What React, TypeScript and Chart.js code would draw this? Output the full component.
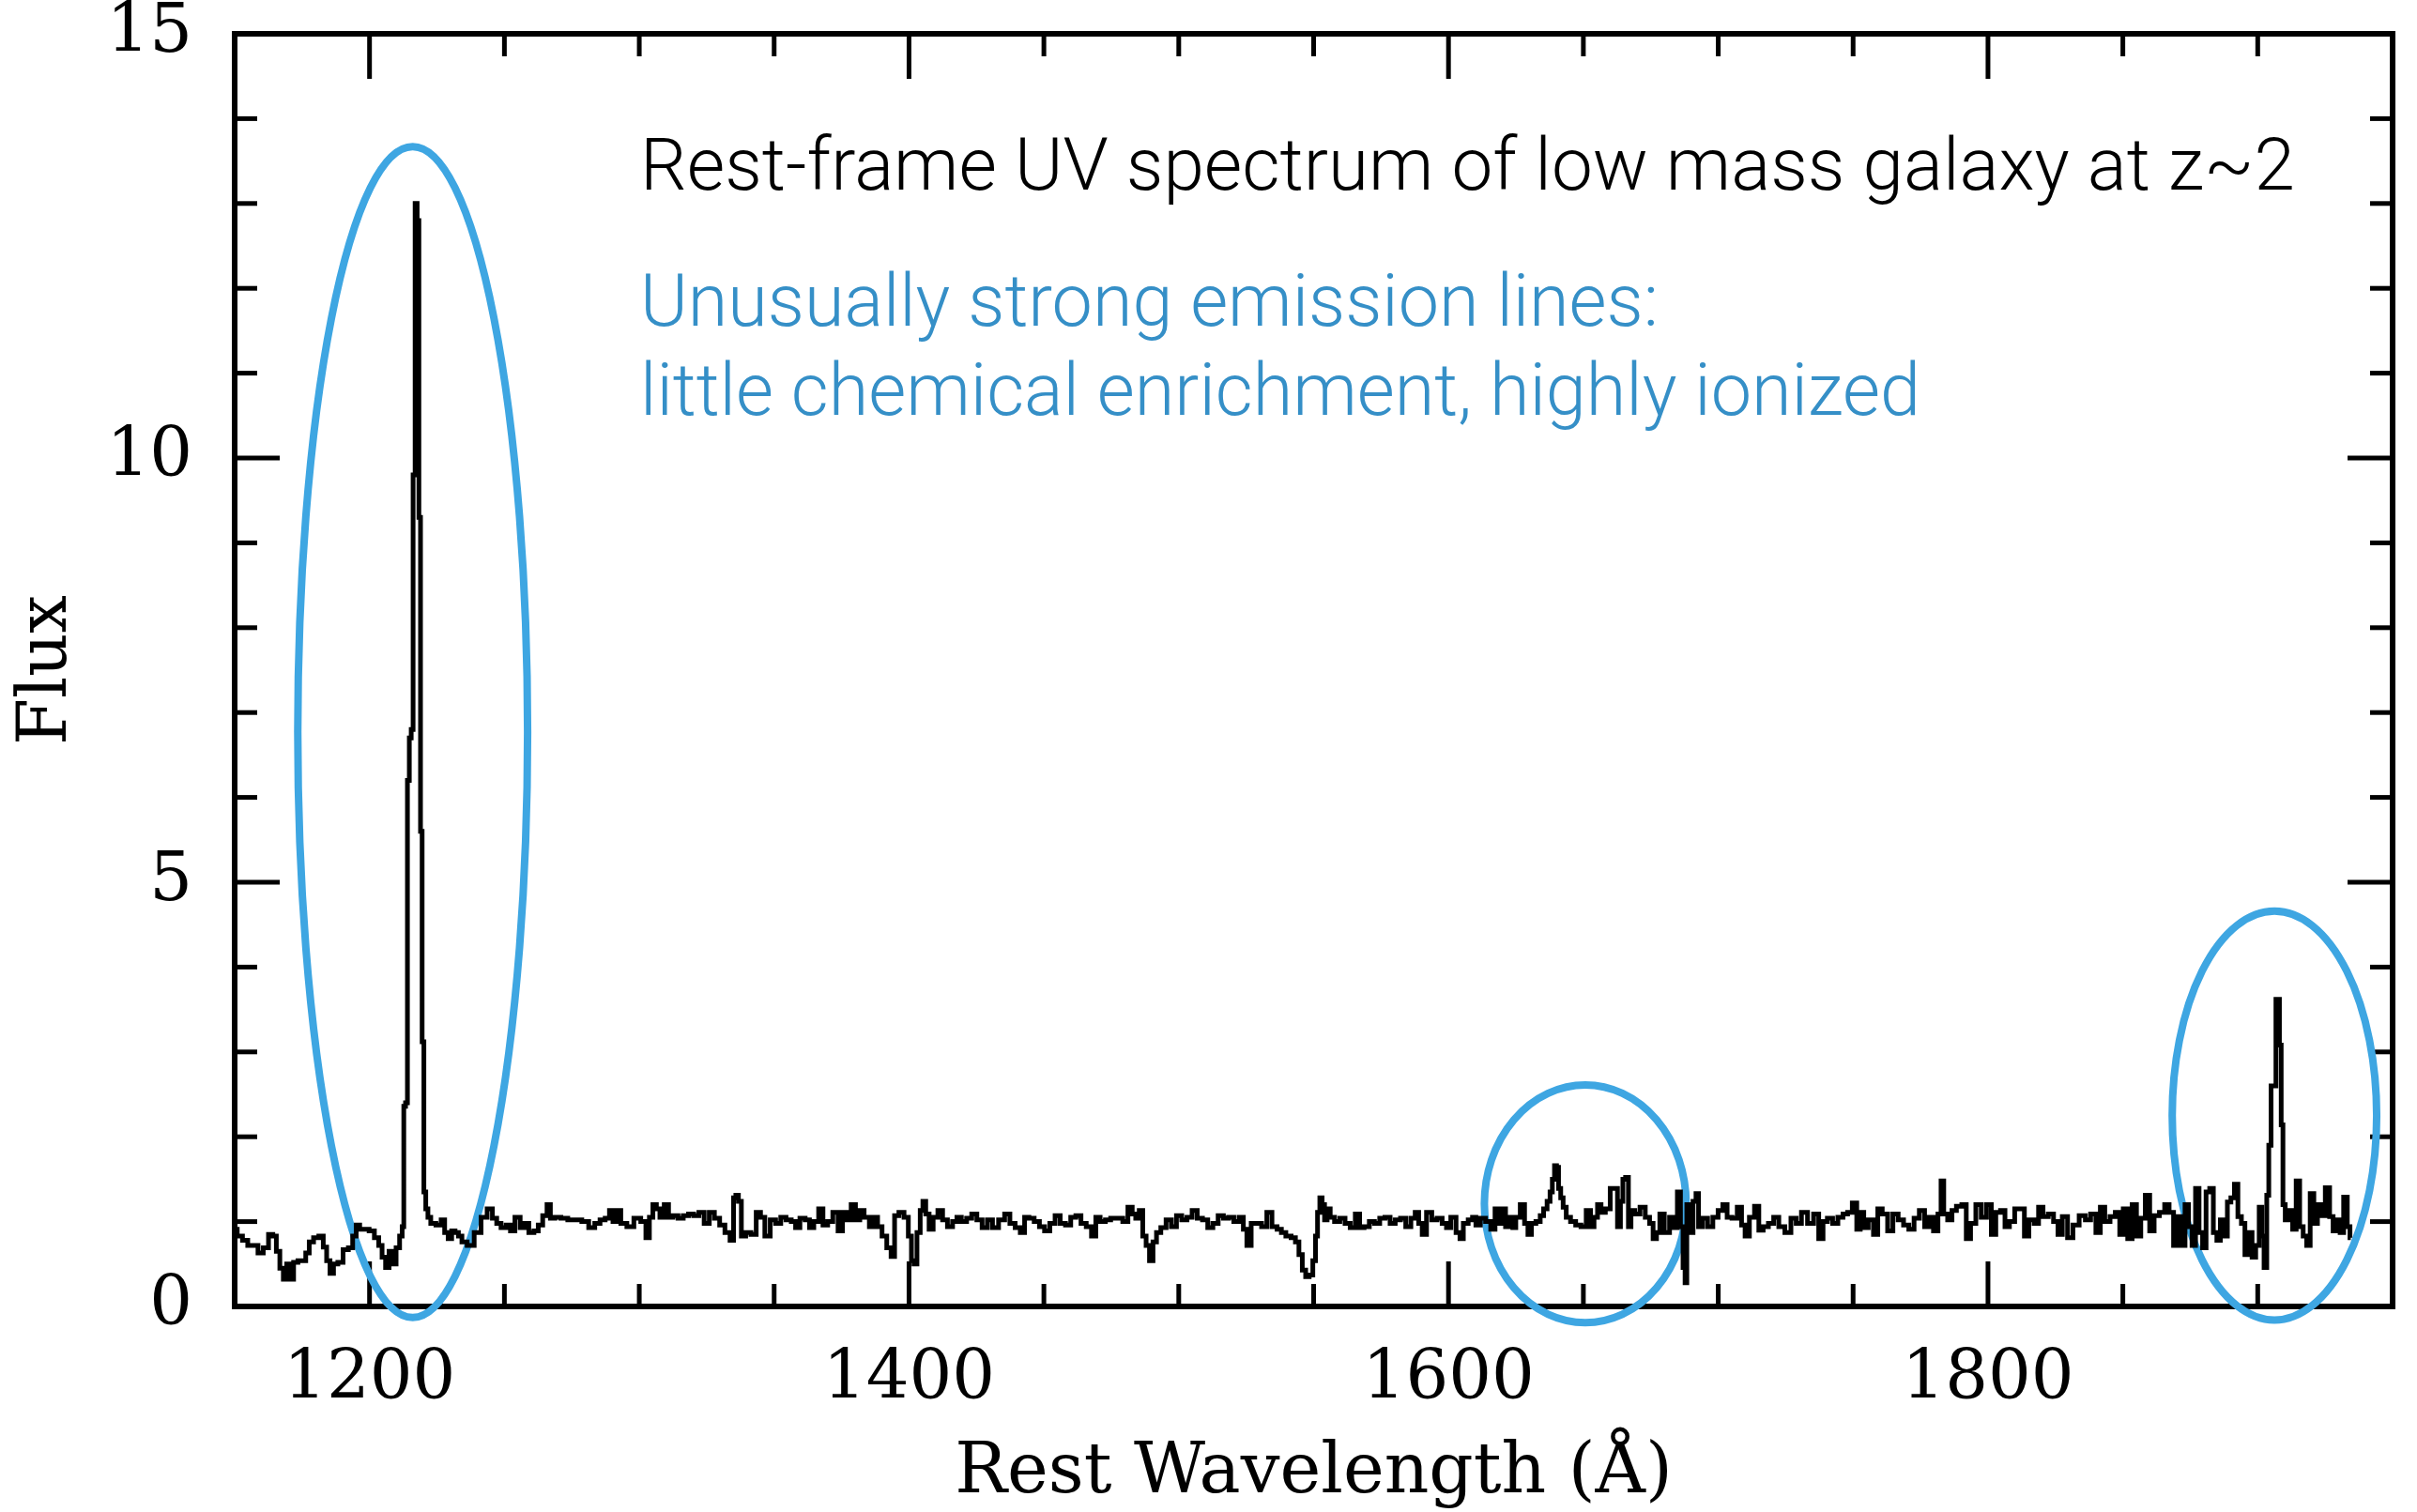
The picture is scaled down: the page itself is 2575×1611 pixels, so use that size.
import React, { useEffect, useRef } from 'react';
import { Chart, registerables } from 'chart.js';

Chart.register(...registerables);

// ---------- axis ranges and tick labels ----------
const X_RANGE = [1150, 1950];
const Y_RANGE = [0, 15];
const X_LABEL_TICKS = [1200, 1400, 1600, 1800];
const Y_LABEL_TICKS = [0, 5, 10, 15];
const X_TITLE = 'Rest Wavelength (Å)';
const Y_TITLE = 'Flux';

// ---------- spectrum: [rest wavelength (Å), flux] ----------
const blueSide: [number, number][] = [
  [1150.0, 0.91], [1151.9, 0.83], [1153.9, 0.78], [1155.8, 0.72], [1157.7, 0.72], [1159.6, 0.63],
  [1161.6, 0.69], [1163.5, 0.85], [1164.8, 0.83], [1166.1, 0.65], [1167.4, 0.45], [1168.7, 0.32],
  [1169.9, 0.50], [1171.2, 0.32], [1172.5, 0.52], [1174.4, 0.54], [1175.7, 0.54], [1177.0, 0.63],
  [1178.3, 0.76], [1180.2, 0.81], [1182.2, 0.83], [1183.5, 0.70], [1184.7, 0.54], [1186.0, 0.39],
  [1187.3, 0.50], [1189.2, 0.52], [1191.2, 0.67], [1193.1, 0.69], [1194.4, 0.83], [1195.7, 0.96],
  [1197.0, 0.91], [1198.9, 0.91], [1200.8, 0.89], [1202.8, 0.81], [1204.0, 0.72], [1205.3, 0.58],
  [1206.6, 0.46], [1207.9, 0.65], [1209.2, 0.50], [1210.5, 0.69], [1211.8, 0.83],
];

const lymanAlpha: [number, number][] = [
  [1212.4, 0.94], [1213.0, 2.36], [1213.7, 2.40], [1214.4, 6.2], [1215.1, 6.7], [1215.8, 6.8],
  [1216.5, 9.8], [1217.3, 13.0], [1218.0, 12.8], [1218.6, 9.3], [1219.2, 5.6], [1219.8, 3.12],
  [1220.5, 1.35], [1221.2, 1.15], [1222.1, 1.05],
];

const farUV1: [number, number][] = [
  [1223.3, 0.98], [1225.9, 0.96], [1227.2, 1.02], [1228.5, 0.87], [1229.8, 0.80], [1231.1, 0.89],
  [1232.3, 0.87], [1233.6, 0.83], [1234.9, 0.76], [1237.5, 0.72], [1240.1, 0.87], [1242.6, 1.05],
  [1244.6, 1.15], [1246.5, 1.04], [1247.8, 0.98], [1249.7, 0.93], [1251.6, 0.96], [1252.9, 0.89],
  [1254.9, 1.05], [1256.8, 0.93], [1258.1, 0.98], [1260.0, 0.87], [1261.9, 0.89], [1263.2, 0.96],
  [1265.2, 1.07], [1266.4, 1.20], [1267.7, 1.04], [1269.7, 1.05], [1272.2, 1.04], [1274.8, 1.02],
  [1277.4, 1.02], [1280.0, 1.00], [1282.5, 0.93], [1284.5, 0.98], [1286.4, 1.02], [1288.3, 1.04],
  [1289.6, 1.13], [1290.9, 1.00], [1292.2, 1.13], [1294.1, 0.98], [1296.7, 0.94], [1299.3, 1.04],
  [1301.8, 1.00], [1303.1, 0.81], [1304.4, 1.05], [1305.7, 1.20], [1307.0, 1.15], [1308.3, 1.05],
  [1310.2, 1.20], [1311.5, 1.05], [1313.4, 1.07], [1315.3, 1.04], [1317.3, 1.07], [1319.2, 1.09],
  [1321.1, 1.07], [1323.1, 1.11], [1325.0, 0.98], [1326.9, 1.11], [1328.8, 1.04], [1330.8, 0.96],
  [1332.7, 0.87], [1334.6, 0.78], [1335.3, 1.28], [1336.3, 1.31], [1337.2, 1.24], [1338.5, 0.83],
  [1340.4, 0.87], [1342.4, 0.85], [1344.3, 1.11], [1345.6, 1.05], [1347.5, 0.83],
];

const farUV2: [number, number][] = [
  [1349.6, 1.02], [1351.5, 0.98], [1353.4, 1.05], [1355.4, 1.02], [1357.3, 1.00], [1358.6, 0.93],
  [1360.5, 1.04], [1362.5, 1.02], [1363.7, 0.93], [1365.7, 1.00], [1367.3, 1.15], [1368.9, 0.96],
  [1370.8, 1.00], [1372.7, 1.11], [1374.7, 0.89], [1376.0, 1.11], [1377.9, 1.02], [1379.2, 1.20],
  [1381.1, 1.02], [1382.4, 1.13], [1384.3, 1.05], [1386.3, 0.94], [1387.5, 1.05], [1389.2, 0.94],
  [1390.8, 0.83], [1392.7, 0.69], [1394.0, 0.59], [1395.3, 1.07], [1397.2, 1.11], [1399.1, 1.05],
  [1400.4, 0.83], [1401.4, 0.54], [1402.3, 0.50], [1403.6, 0.87], [1404.7, 1.13], [1405.6, 1.24],
  [1406.8, 1.09], [1408.1, 0.91], [1409.8, 1.05], [1411.6, 1.13], [1413.3, 1.02], [1415.2, 0.94],
  [1417.1, 1.00], [1418.4, 1.05], [1420.4, 1.00], [1422.3, 1.04], [1424.2, 1.09], [1426.1, 1.02],
  [1428.1, 0.93], [1430.0, 1.02], [1431.9, 0.93], [1434.5, 1.02], [1436.4, 1.09], [1438.4, 0.98],
  [1440.3, 0.93], [1442.2, 0.87], [1443.5, 1.05], [1445.4, 1.04], [1447.4, 1.00], [1449.3, 0.94],
  [1451.2, 0.89], [1453.2, 0.98], [1455.1, 1.07], [1457.0, 0.98], [1459.0, 0.96], [1460.9, 1.05],
  [1462.8, 1.07], [1464.7, 0.98], [1466.7, 0.94], [1468.6, 0.83], [1469.9, 1.05], [1471.8, 1.00],
  [1473.8, 1.02], [1475.7, 1.04], [1478.3, 1.04], [1480.2, 1.00], [1482.1, 1.17], [1483.4, 1.09],
  [1484.7, 1.04], [1486.0, 1.13], [1487.3, 0.83], [1488.5, 0.72], [1489.8, 0.54], [1491.1, 0.76],
  [1492.4, 0.87], [1494.3, 0.93], [1496.3, 1.02], [1498.2, 0.94], [1500.1, 1.07], [1502.1, 1.02],
  [1504.0, 1.05], [1505.9, 1.13], [1507.8, 1.04], [1509.8, 1.02], [1511.7, 0.93], [1513.6, 0.98],
  [1515.6, 1.07], [1517.5, 1.04], [1519.4, 1.05], [1521.4, 1.00], [1523.3, 1.05], [1524.6, 0.91],
  [1525.9, 0.72], [1527.8, 0.98], [1529.7, 0.98], [1531.7, 0.94], [1533.6, 1.11], [1535.5, 0.94],
  [1537.4, 0.91], [1538.7, 0.87], [1540.7, 0.83], [1542.6, 0.81], [1543.9, 0.76], [1545.2, 0.61],
  [1546.4, 0.43], [1547.7, 0.35], [1549.0, 0.37],
];

const nearUV1: [number, number][] = [
  [1550.4, 0.54], [1551.0, 0.83], [1551.9, 1.11], [1552.7, 1.28], [1553.6, 1.20], [1554.5, 1.02],
  [1555.5, 1.15], [1556.8, 1.05], [1558.7, 1.00], [1560.7, 1.04], [1562.6, 0.98], [1564.5, 0.93],
  [1566.4, 1.09], [1567.7, 0.93], [1569.7, 0.94], [1571.6, 1.00], [1573.5, 0.98], [1575.5, 1.04],
  [1577.4, 1.05], [1579.3, 0.98], [1581.2, 1.02], [1583.2, 1.04], [1585.1, 0.94], [1587.0, 1.04],
  [1588.3, 1.11], [1589.6, 0.98], [1590.9, 0.85], [1592.8, 1.11], [1594.8, 1.02], [1596.7, 1.04],
  [1598.6, 0.98], [1599.9, 0.93], [1601.8, 1.05], [1603.8, 0.87], [1604.7, 0.80], [1606.3, 0.98],
  [1608.3, 1.02], [1609.5, 1.05], [1610.8, 0.96], [1612.8, 1.04], [1614.7, 1.00], [1616.6, 0.91],
  [1617.9, 1.15], [1619.2, 0.98], [1620.5, 1.15], [1621.8, 0.94], [1623.4, 1.05], [1624.3, 0.93],
  [1625.6, 1.05], [1627.6, 1.20], [1628.8, 0.98], [1630.1, 0.85], [1631.4, 0.98], [1633.4, 1.00],
  [1634.6, 1.07], [1635.9, 1.15], [1637.2, 1.24], [1638.1, 1.35], [1638.9, 1.50], [1639.7, 1.66],
  [1640.4, 1.64], [1641.2, 1.39], [1642.0, 1.28], [1643.0, 1.17], [1644.3, 1.05], [1646.2, 1.00],
  [1648.1, 0.96], [1650.1, 0.94], [1652.0, 1.13], [1653.3, 0.94], [1654.6, 1.05], [1655.9, 1.20],
  [1657.2, 1.11], [1659.1, 1.15], [1660.8, 1.39], [1662.0, 1.39], [1663.3, 0.94], [1664.2, 1.24],
  [1665.1, 1.50], [1666.2, 1.52], [1667.2, 0.94], [1668.1, 1.13], [1670.0, 1.09], [1672.0, 1.17],
  [1673.9, 1.05], [1675.2, 0.98], [1676.5, 0.80], [1677.7, 0.87], [1679.0, 1.09], [1681.0, 0.87],
  [1682.9, 1.05], [1684.2, 0.93], [1685.5, 1.35], [1686.5, 0.94], [1687.4, 0.46], [1688.0, 0.28],
  [1688.7, 1.20], [1690.0, 0.87], [1691.3, 1.24], [1692.2, 1.33], [1693.2, 0.94], [1695.1, 1.04],
  [1697.0, 0.94], [1699.0, 1.05], [1700.9, 1.13], [1702.5, 1.20], [1704.1, 1.05], [1706.1, 1.04],
  [1708.0, 1.17], [1709.3, 0.96], [1710.6, 0.83], [1712.5, 1.05], [1714.4, 1.18], [1715.7, 0.90],
  [1717.6, 0.94], [1719.6, 0.98], [1721.5, 1.05], [1723.4, 0.94], [1726.0, 0.87], [1727.9, 1.04],
  [1729.9, 0.98], [1731.8, 1.11], [1734.4, 0.98], [1736.3, 1.09], [1738.2, 0.80], [1739.5, 1.00],
  [1741.4, 1.04], [1743.4, 0.98], [1745.3, 1.05], [1747.2, 1.09],
];

const nearUV2: [number, number][] = [
  [1748.7, 1.11], [1750.7, 1.22], [1752.0, 0.91], [1753.3, 1.11], [1754.6, 0.93], [1756.6, 1.02],
  [1758.5, 0.85], [1759.8, 1.15], [1761.8, 1.09], [1763.8, 0.89], [1765.7, 1.09], [1767.7, 1.02],
  [1769.7, 0.96], [1771.6, 0.91], [1773.6, 1.04], [1775.5, 1.13], [1777.5, 0.94], [1778.8, 1.05],
  [1780.8, 0.89], [1782.1, 1.09], [1783.1, 1.48], [1784.1, 1.09], [1786.0, 1.02], [1787.3, 1.13],
  [1789.3, 1.18], [1791.3, 1.20], [1792.6, 0.80], [1794.5, 0.98], [1796.5, 1.20], [1798.5, 1.05],
  [1800.4, 1.20], [1802.1, 0.85], [1803.7, 1.11], [1805.6, 1.13], [1807.0, 0.94], [1808.9, 1.00],
  [1810.9, 1.15], [1812.8, 1.15], [1814.2, 0.83], [1816.1, 1.02], [1818.1, 0.98], [1819.4, 1.17],
  [1821.4, 1.06], [1823.3, 1.09], [1825.3, 1.00], [1826.6, 0.85], [1828.5, 1.06], [1830.5, 0.81],
  [1832.5, 0.96], [1835.1, 1.07], [1837.1, 1.02], [1839.0, 1.09], [1841.0, 0.87], [1842.3, 1.17],
  [1844.3, 1.00], [1846.2, 1.06], [1848.2, 1.11], [1849.5, 0.85], [1850.8, 1.15], [1852.8, 0.80],
  [1854.1, 1.20], [1856.0, 0.83], [1857.3, 1.04], [1859.3, 1.31], [1860.6, 0.89], [1862.6, 1.07],
  [1864.5, 1.11], [1866.5, 1.20], [1867.8, 1.11], [1869.8, 0.72], [1871.1, 1.06], [1872.4, 0.72],
  [1873.7, 1.20], [1875.0, 0.94], [1876.3, 0.72], [1877.6, 1.39], [1878.9, 0.87], [1880.2, 0.69],
  [1881.5, 1.35], [1882.9, 1.39], [1884.2, 0.87], [1885.5, 0.78], [1886.8, 1.02], [1888.1, 0.83],
  [1889.4, 1.23], [1890.7, 1.28], [1892.0, 1.44], [1893.3, 1.06], [1894.6, 0.98], [1895.9, 0.61],
  [1897.2, 0.87], [1898.6, 0.58], [1899.9, 0.72], [1901.2, 1.17], [1901.8, 0.83], [1902.9, 0.46],
  [1903.8, 1.31], [1904.4, 1.90], [1905.5, 2.60], [1906.4, 2.60], [1907.1, 3.62], [1907.7, 3.62],
  [1908.4, 3.08], [1909.0, 2.14], [1909.7, 1.20], [1910.7, 1.02], [1912.3, 1.13], [1913.6, 0.91],
  [1914.9, 1.48], [1916.2, 0.94], [1917.5, 0.83], [1918.8, 0.72], [1920.1, 1.33], [1921.5, 0.98],
  [1922.8, 1.20], [1924.1, 1.07], [1926.0, 1.40], [1927.3, 1.06], [1928.6, 0.89], [1929.9, 1.02],
  [1931.2, 0.87], [1932.5, 1.29], [1933.9, 0.94], [1934.5, 0.81],
];

// ---------- highlighted emission regions (data units) ----------
const highlightCenterWave = [1216.0, 1650.7, 1906.2];
const highlightCenterFlux = [6.77, 1.21, 2.25];
const highlightHalfWidthWave = [42.6, 37.4, 37.9];
const highlightHalfHeightFlux = [6.9, 1.4, 2.41];

// ---------- annotation text ----------
const HEADLINE = 'Rest-frame UV spectrum of low mass galaxy at z~2';
const NOTE_LINES = ['Unusually strong emission lines:', 'little chemical enrichment, highly ionized'];

const BLUE_RING = '#3ea6e2';
const BLUE_TEXT = '#358fc7';

const spectrum = [...blueSide, ...lymanAlpha, ...farUV1, ...farUV2, ...nearUV1, ...nearUV2].map(
  ([w, f]) => ({ x: w, y: f })
);

const framePlugin = {
  id: 'frameAndRings',
  beforeDatasetsDraw(chart: any) {
    const { ctx, chartArea, scales } = chart;
    const { left, right, top, bottom } = chartArea;
    const xs = scales.x;
    const ys = scales.y;
    ctx.save();
    ctx.strokeStyle = '#000';
    ctx.lineCap = 'butt';
    ctx.lineWidth = 5;
    const seg = (x1: number, y1: number, x2: number, y2: number) => {
      ctx.beginPath();
      ctx.moveTo(x1, y1);
      ctx.lineTo(x2, y2);
      ctx.stroke();
    };
    for (let v = X_RANGE[0] + 50; v < X_RANGE[1]; v += 50) {
      const px = xs.getPixelForValue(v);
      const len = X_LABEL_TICKS.includes(v) ? 48 : 24;
      seg(px, bottom, px, bottom - len);
      seg(px, top, px, top + len);
    }
    for (let v = Y_RANGE[0] + 1; v < Y_RANGE[1]; v += 1) {
      const py = ys.getPixelForValue(v);
      const len = Y_LABEL_TICKS.includes(v) ? 48 : 24;
      seg(left, py, left + len, py);
      seg(right, py, right - len, py);
    }
    ctx.lineWidth = 6;
    ctx.lineJoin = 'miter';
    ctx.strokeRect(left, top, right - left, bottom - top);

    ctx.strokeStyle = BLUE_RING;
    ctx.lineWidth = 8;
    for (let i = 0; i < highlightCenterWave.length; i++) {
      const cx = xs.getPixelForValue(highlightCenterWave[i]);
      const cy = ys.getPixelForValue(highlightCenterFlux[i]);
      const rx = xs.getPixelForValue(highlightCenterWave[i] + highlightHalfWidthWave[i]) - cx;
      const ry = cy - ys.getPixelForValue(highlightCenterFlux[i] + highlightHalfHeightFlux[i]);
      ctx.beginPath();
      ctx.ellipse(cx, cy, rx, ry, 0, 0, Math.PI * 2);
      ctx.stroke();
    }
    ctx.restore();
  },
};

const notesPlugin = {
  id: 'notes',
  afterDraw(chart: any) {
    const { ctx, chartArea } = chart;
    const x0 = chartArea.left + 432;
    const items = [
      { text: HEADLINE, color: '#000', base: chartArea.top + 166, width: 1763 },
      { text: NOTE_LINES[0], color: BLUE_TEXT, base: chartArea.top + 311, width: 1085 },
      { text: NOTE_LINES[1], color: BLUE_TEXT, base: chartArea.top + 406, width: 1364 },
    ];
    ctx.save();
    ctx.font = '300 78px Roboto';
    ctx.textBaseline = 'alphabetic';
    ctx.textAlign = 'left';
    for (const it of items) {
      const w = ctx.measureText(it.text).width;
      ctx.save();
      ctx.translate(x0, it.base);
      ctx.scale(it.width / w, 1);
      ctx.fillStyle = it.color;
      ctx.fillText(it.text, 0, 0);
      ctx.restore();
    }
    ctx.restore();
  },
};

export default function App() {
  const canvasRef = useRef<HTMLCanvasElement | null>(null);

  useEffect(() => {
    document.body.style.margin = '0';
    const canvas = canvasRef.current;
    if (!canvas) return;
    const tickFont = { family: 'DejaVu Serif', size: 72 };
    const chart = new Chart(canvas, {
      type: 'line',
      data: {
        datasets: [
          {
            data: spectrum,
            borderColor: '#000',
            borderWidth: 5,
            pointRadius: 0,
            stepped: 'middle',
            fill: false,
          } as any,
        ],
      },
      options: {
        responsive: false,
        animation: false,
        devicePixelRatio: 1,
        layout: { padding: { top: 36, right: 26, left: 0, bottom: 0 }, autoPadding: false } as any,
        plugins: {
          legend: { display: false },
          tooltip: { enabled: false },
        },
        scales: {
          x: {
            type: 'linear',
            min: X_RANGE[0],
            max: X_RANGE[1],
            grid: { display: false, drawTicks: false },
            border: { display: false },
            afterBuildTicks: (s: any) => {
              s.ticks = X_LABEL_TICKS.map((v) => ({ value: v }));
            },
            ticks: {
              autoSkip: false,
              maxRotation: 0,
              padding: 36,
              color: '#000',
              font: tickFont,
              callback: (v: any) => String(v),
            },
            title: {
              display: true,
              text: X_TITLE,
              color: '#000',
              font: { family: 'DejaVu Serif', size: 74 },
              padding: { top: 0, bottom: -4 },
            },
            afterFit: (s: any) => {
              s.height = 219;
              s.paddingLeft = 0;
              s.paddingRight = 0;
            },
          },
          y: {
            type: 'linear',
            min: Y_RANGE[0],
            max: Y_RANGE[1],
            grid: { display: false, drawTicks: false },
            border: { display: false },
            afterBuildTicks: (s: any) => {
              s.ticks = Y_LABEL_TICKS.map((v) => ({ value: v }));
            },
            ticks: {
              padding: 45,
              color: '#000',
              font: tickFont,
              callback: (v: any) => String(v),
            },
            title: {
              display: true,
              text: Y_TITLE,
              color: '#000',
              font: { family: 'DejaVu Serif', size: 72 },
              padding: { top: 8, bottom: 0 },
            },
            afterFit: (s: any) => {
              s.width = 250;
              s.paddingTop = 0;
              s.paddingBottom = 0;
            },
          },
        },
      } as any,
      plugins: [framePlugin, notesPlugin],
    });
    return () => chart.destroy();
  }, []);

  return (
    <div style={{ width: 2575, height: 1611, background: '#fff' }}>
      <canvas ref={canvasRef} width={2575} height={1611} style={{ display: 'block', width: 2575, height: 1611 }} />
    </div>
  );
}
